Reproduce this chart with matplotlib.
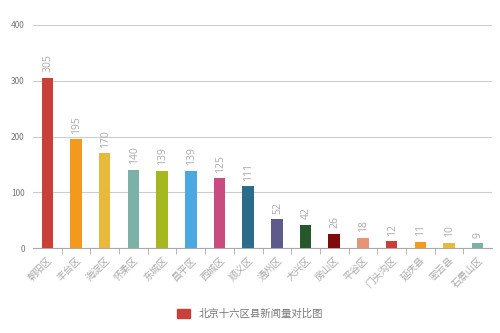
import matplotlib
matplotlib.use('Agg')
from matplotlib import pyplot as plt
from matplotlib.patches import Patch

plt.rcParams['font.family'] = ['Noto Sans CJK SC', 'DejaVu Sans']

districts = ['朝阳区', '丰台区', '海淀区', '怀柔区', '东城区', '昌平区', '西城区', '顺义区',
             '通州区', '大兴区', '房山区', '平谷区', '门头沟区', '延庆县', '密云县', '石景山区']
counts = [305, 195, 170, 140, 139, 139, 125, 111, 52, 42, 26, 18, 12, 11, 10, 9]
bar_colors = ['#C9403A', '#F39A1E', '#E8B93C', '#7CB1A8', '#A6B820', '#4BA8E0', '#C94C80',
              '#2B6C8A', '#5D5B8C', '#26582C', '#7E0A0A', '#E69476',
              '#C9403A', '#F39A1E', '#E8B93C', '#7CB1A8']
series_name = '北京十六区县新闻量对比图'

fig = plt.figure(figsize=(5, 3.33), dpi=100)
ax = fig.add_axes([0.066, 0.255, 0.918, 0.67])

x = list(range(len(districts)))
ax.bar(x, counts, width=0.4, color=bar_colors, zorder=3)
for xi, v in zip(x, counts):
    ax.annotate(str(v), (xi, v), xytext=(0.5, 4), textcoords='offset points',
                rotation=90, ha='center', va='bottom',
                fontsize=7.5, color='#aaaaaa', family='Open Sans')

ax.set_ylim(0, 400)
ax.set_yticks([0, 100, 200, 300, 400])
ax.set_xlim(-0.5, len(districts) - 0.5)
ax.yaxis.grid(True, color='#cccccc', lw=0.8, zorder=0)
ax.tick_params(axis='y', length=0, labelsize=6, labelcolor='#777777', pad=6)
ax.set_xticks(x)
ax.set_xticklabels(districts, rotation=45, ha='right', rotation_mode='anchor',
                   fontsize=7, color='#aaaaaa')
ax.tick_params(axis='x', length=0, pad=5)
ax.set_xticks([i - 0.5 for i in range(1, len(districts))], minor=True)
ax.tick_params(axis='x', which='minor', length=4, color='#aaaaaa', direction='out')
for s in ['top', 'right', 'left']:
    ax.spines[s].set_visible(False)
ax.spines['bottom'].set_color('#aaaaaa')

fig.legend(handles=[Patch(color='#C9403A', label=series_name)], loc='center',
           bbox_to_anchor=(0.5, 0.058), frameon=False, fontsize=7.5,
           labelcolor='#777777', handlelength=1.2, handleheight=1.0)

fig.savefig('out.png', dpi=100)
